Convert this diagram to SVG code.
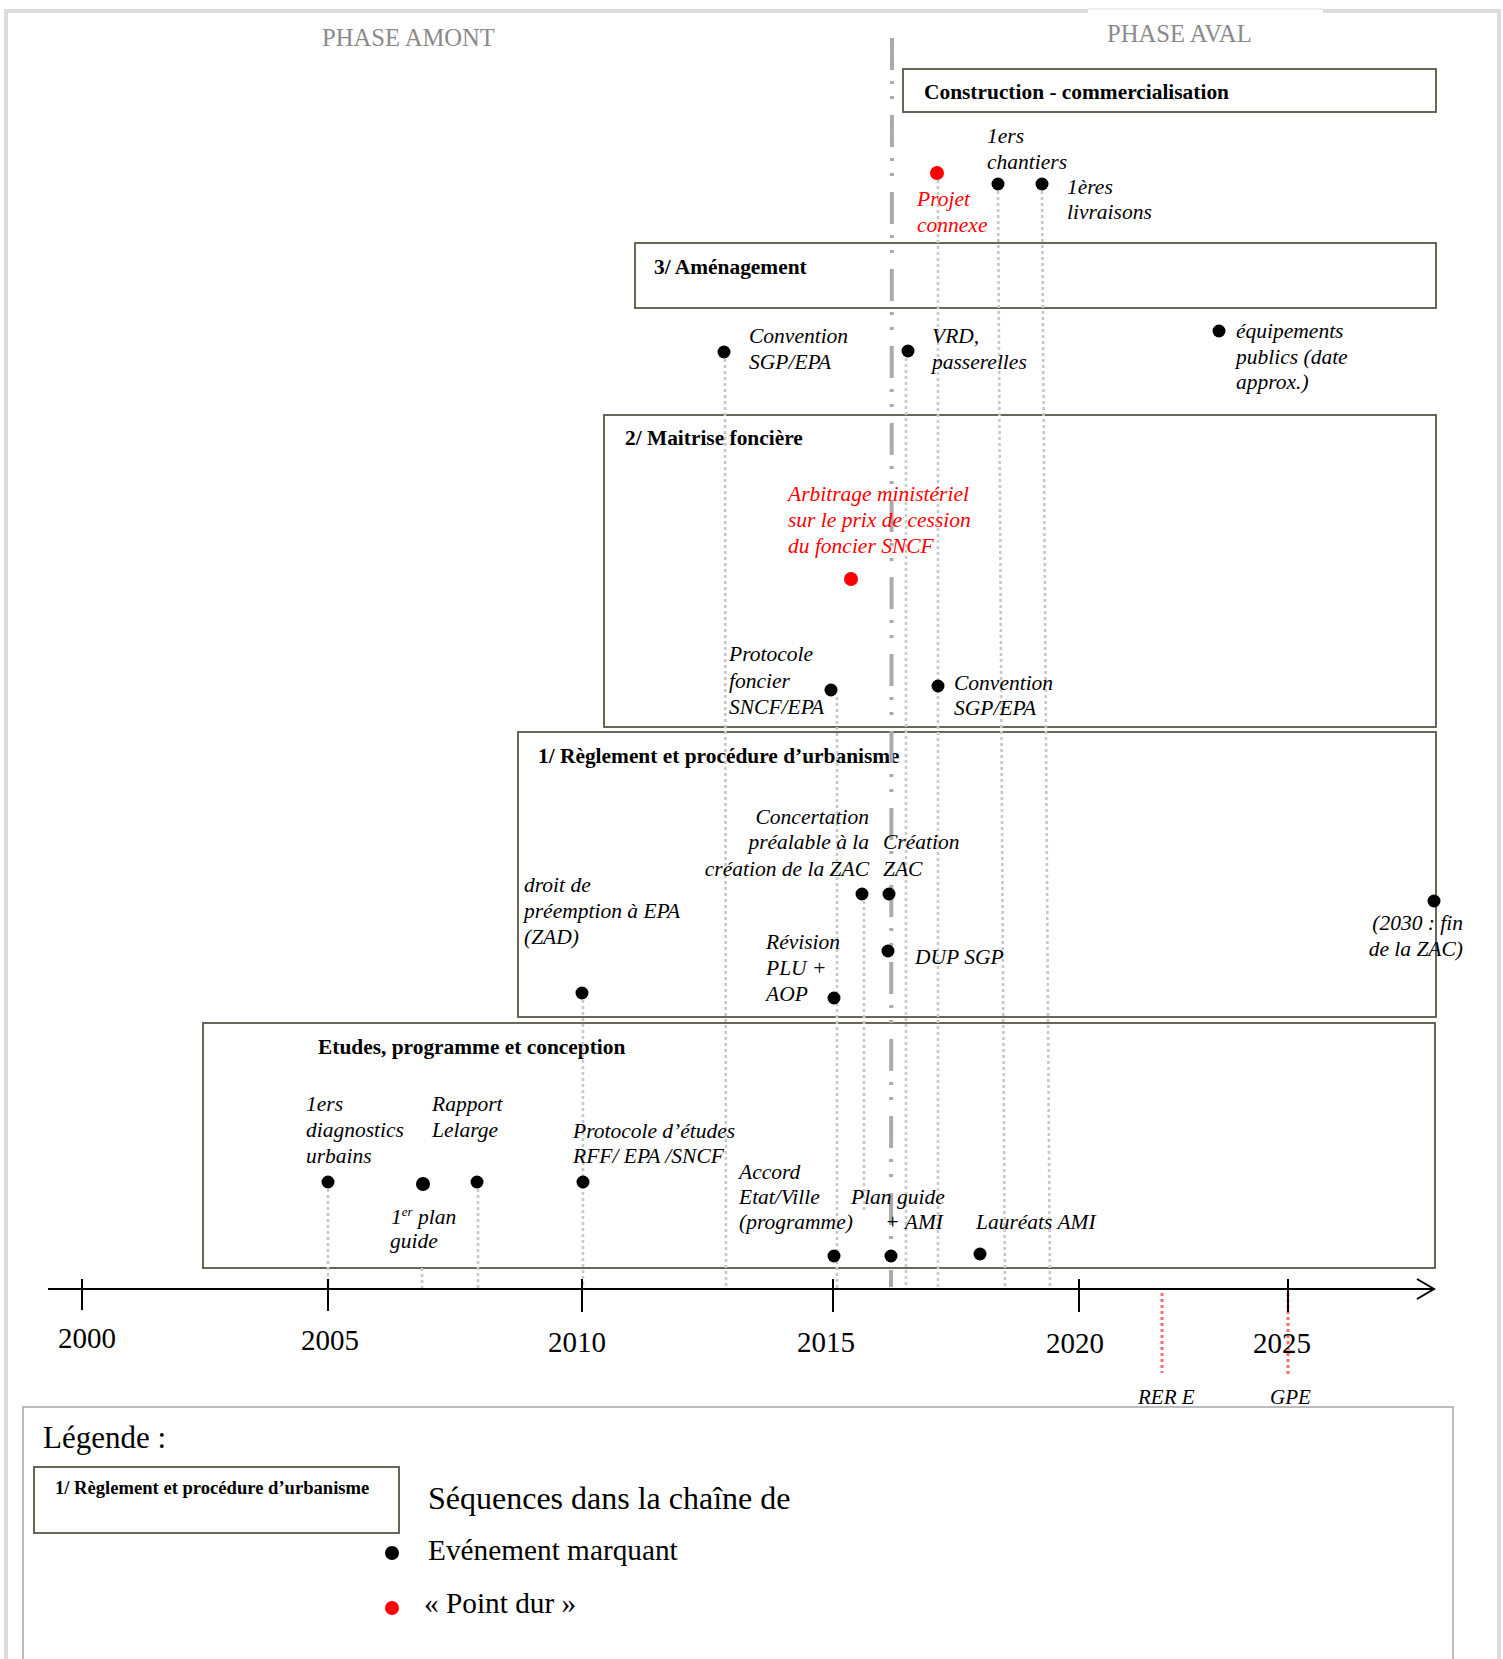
<svg xmlns="http://www.w3.org/2000/svg" width="1503" height="1659" viewBox="0 0 1503 1659">
<defs>
<style>
text{font-family:"Liberation Serif","Times New Roman",serif;}
.phase{font-size:24.6px;fill:#8a8a8a;}
.title{font-size:21.4px;font-weight:bold;fill:#000;}
.lbl{font-size:21.5px;font-style:italic;fill:#000;}
.red{fill:#ff0000;}
.year{font-size:29px;fill:#000;text-anchor:middle;}
.box{fill:none;stroke:#5a5745;stroke-width:1.8;}
.dot{fill:#000;}
.rdot{fill:#ff0000;}
.guide{stroke:#c8c8c8;stroke-width:2.6;stroke-dasharray:3 3;fill:none;}
.rguide{stroke:#f47070;stroke-width:3;stroke-dasharray:3 3;fill:none;}
.phaseline{stroke:#ababab;stroke-width:4;stroke-dasharray:32 11 3 12 3 16;fill:none;}
.tick{stroke:#000;stroke-width:2;}
.leg{font-size:29.3px;fill:#000;}
</style>
<marker id="arrow" viewBox="0 0 20 22" refX="18" refY="11" markerWidth="20" markerHeight="22" markerUnits="userSpaceOnUse" orient="auto">
<polyline points="1,1 18,11 1,21" fill="none" stroke="#000" stroke-width="2"/>
</marker>
</defs>
<rect width="1503" height="1659" fill="#fff"/>
<!-- outer frame -->
<g id="frame" fill="none">
<path d="M6,1659 V11 H1088" stroke="#dcdcdc" stroke-width="4"/>
<path d="M1088,9 H1323" stroke="#f0f0f0" stroke-width="2"/>
<path d="M1323,11 H1499 V1659" stroke="#dcdcdc" stroke-width="4"/>
</g>
<text class="phase" x="322" y="46">PHASE AMONT</text>
<text class="phase" x="1107" y="42">PHASE AVAL</text>

<!-- boxes -->
<g id="box-construction"><rect class="box" x="903" y="69" width="533" height="43"/><text class="title" x="924" y="99">Construction - commercialisation</text></g>
<g id="box-amenagement"><rect class="box" x="635" y="243" width="801" height="65"/><text class="title" x="654" y="274">3/ Aménagement</text></g>
<g id="box-fonciere"><rect class="box" x="604" y="415" width="832" height="312"/><text class="title" x="625" y="445">2/ Maitrise foncière</text></g>
<g id="box-urbanisme"><rect class="box" x="518" y="732" width="918" height="285"/><text class="title" x="538" y="763">1/ Règlement et procédure d’urbanisme</text></g>
<g id="box-etudes"><rect class="box" x="203" y="1023" width="1232" height="245"/><text class="title" x="318" y="1054">Etudes, programme et conception</text></g>

<!-- connectors -->
<g id="connectors">
<line class="phaseline" x1="892" y1="38" x2="891" y2="1287"/>
<line class="guide" x1="328" y1="1189" x2="328" y2="1289"/>
<line class="guide" x1="422" y1="1268" x2="422" y2="1289"/>
<line class="guide" x1="478" y1="1189" x2="478" y2="1289"/>
<line class="guide" x1="583" y1="1000" x2="583" y2="1289"/>
<line class="guide" x1="725" y1="359" x2="726" y2="1289"/>
<line class="guide" x1="837" y1="697" x2="837" y2="1289"/>
<line class="guide" x1="864" y1="901" x2="864" y2="1213"/>
<line class="guide" x1="906" y1="358" x2="906" y2="1289"/>
<line class="guide" x1="938" y1="180" x2="938" y2="1289"/>
<line class="guide" x1="998" y1="191" x2="1005" y2="1289"/>
<line class="guide" x1="1042" y1="191" x2="1050" y2="1289"/>
<line class="rguide" x1="1162" y1="1293" x2="1162" y2="1373"/>
<line class="rguide" x1="1288" y1="1293" x2="1288" y2="1375"/>
</g>

<!-- axis -->
<g id="axis">
<line x1="48" y1="1289" x2="1434" y2="1289" stroke="#000" stroke-width="2.2" marker-end="url(#arrow)"/>
<line class="tick" x1="82" y1="1279" x2="82" y2="1310"/>
<line class="tick" x1="328" y1="1279" x2="328" y2="1311"/>
<line class="tick" x1="582" y1="1279" x2="582" y2="1312"/>
<line class="tick" x1="833" y1="1279" x2="833" y2="1312"/>
<line class="tick" x1="1079" y1="1279" x2="1079" y2="1312"/>
<line class="tick" x1="1288" y1="1279" x2="1288" y2="1312"/>
<text class="year" x="87" y="1348">2000</text>
<text class="year" x="330" y="1350">2005</text>
<text class="year" x="577" y="1352">2010</text>
<text class="year" x="826" y="1352">2015</text>
<text class="year" x="1075" y="1353">2020</text>
<text class="year" x="1282" y="1353">2025</text>
<text class="lbl" x="1138" y="1404" style="font-size:21px">RER E</text>
<text class="lbl" x="1270" y="1404" style="font-size:21px">GPE</text>
</g>

<!-- events -->
<g id="ev-projet-connexe"><circle class="rdot" cx="937" cy="173" r="7"/><text class="lbl red" x="917" y="206">Projet</text><text class="lbl red" x="917" y="232">connexe</text></g>
<g id="ev-chantiers"><circle class="dot" cx="998" cy="184" r="6.5"/><text class="lbl" x="987" y="143">1ers</text><text class="lbl" x="987" y="169">chantiers</text></g>
<g id="ev-livraisons"><circle class="dot" cx="1042" cy="184" r="6.5"/><text class="lbl" x="1067" y="194">1ères</text><text class="lbl" x="1067" y="219">livraisons</text></g>
<g id="ev-convention-amenagement"><circle class="dot" cx="724" cy="352" r="6.5"/><text class="lbl" x="749" y="343">Convention</text><text class="lbl" x="749" y="369">SGP/EPA</text></g>
<g id="ev-vrd"><circle class="dot" cx="908" cy="351" r="6.5"/><text class="lbl" x="932" y="343">VRD,</text><text class="lbl" x="932" y="369">passerelles</text></g>
<g id="ev-equipements"><circle class="dot" cx="1219" cy="331" r="6.5"/><text class="lbl" x="1236" y="338">équipements</text><text class="lbl" x="1236" y="364">publics (date</text><text class="lbl" x="1236" y="389">approx.)</text></g>
<g id="ev-arbitrage"><circle class="rdot" cx="851" cy="579" r="7"/><text class="lbl red" x="788" y="501">Arbitrage ministériel</text><text class="lbl red" x="788" y="527">sur le prix de cession</text><text class="lbl red" x="788" y="553">du foncier SNCF</text></g>
<g id="ev-protocole-foncier"><circle class="dot" cx="831" cy="690" r="6.5"/><text class="lbl" x="729" y="661">Protocole</text><text class="lbl" x="729" y="688">foncier</text><text class="lbl" x="729" y="714">SNCF/EPA</text></g>
<g id="ev-convention-fonciere"><circle class="dot" cx="938" cy="686" r="6.5"/><text class="lbl" x="954" y="690">Convention</text><text class="lbl" x="954" y="715">SGP/EPA</text></g>
<g id="ev-concertation"><circle class="dot" cx="862" cy="894" r="6.5"/><text class="lbl" x="869" y="824" text-anchor="end">Concertation</text><text class="lbl" x="869" y="849" text-anchor="end">préalable à la</text><text class="lbl" x="869" y="876" text-anchor="end">création de la ZAC</text></g>
<g id="ev-creation-zac"><circle class="dot" cx="889" cy="894" r="6.5"/><text class="lbl" x="883" y="849">Création</text><text class="lbl" x="883" y="876">ZAC</text></g>
<g id="ev-zad"><circle class="dot" cx="582" cy="993" r="6.5"/><text class="lbl" x="524" y="892">droit de</text><text class="lbl" x="524" y="918">préemption à EPA</text><text class="lbl" x="524" y="944">(ZAD)</text></g>
<g id="ev-plu"><circle class="dot" cx="834" cy="998" r="6.5"/><text class="lbl" x="766" y="949">Révision</text><text class="lbl" x="766" y="975">PLU +</text><text class="lbl" x="766" y="1001">AOP</text></g>
<g id="ev-dup"><circle class="dot" cx="888" cy="951" r="6.5"/><text class="lbl" x="915" y="964">DUP SGP</text></g>
<g id="ev-fin-zac"><circle class="dot" cx="1434" cy="901" r="6.5"/><text class="lbl" x="1463" y="930" text-anchor="end">(2030 : fin</text><text class="lbl" x="1463" y="956" text-anchor="end">de la ZAC)</text></g>
<g id="ev-diagnostics"><circle class="dot" cx="328" cy="1182" r="6.5"/><text class="lbl" x="306" y="1111">1ers</text><text class="lbl" x="306" y="1137">diagnostics</text><text class="lbl" x="306" y="1163">urbains</text></g>
<g id="ev-plan-guide-1"><circle class="dot" cx="423" cy="1184" r="7"/><text class="lbl" x="391" y="1224">1<tspan font-size="13" dy="-8">er</tspan><tspan dy="8"> plan</tspan></text><text class="lbl" x="390" y="1248">guide</text></g>
<g id="ev-lelarge"><circle class="dot" cx="477" cy="1182" r="6.5"/><text class="lbl" x="432" y="1111">Rapport</text><text class="lbl" x="432" y="1137">Lelarge</text></g>
<g id="ev-protocole-etudes"><circle class="dot" cx="583" cy="1182" r="6.5"/><text class="lbl" x="573" y="1138">Protocole d’études</text><text class="lbl" x="573" y="1163">RFF/ EPA /SNCF</text></g>
<g id="ev-accord"><circle class="dot" cx="834" cy="1256" r="6.5"/><text class="lbl" x="739" y="1179">Accord</text><text class="lbl" x="739" y="1204">Etat/Ville</text><text class="lbl" x="739" y="1229">(programme)</text></g>
<g id="ev-plan-guide-ami"><circle class="dot" cx="891" cy="1256" r="6.5"/><text class="lbl" x="851" y="1204">Plan guide</text><text class="lbl" x="943" y="1229" text-anchor="end">+ AMI</text></g>
<g id="ev-laureats"><circle class="dot" cx="980" cy="1254" r="6.5"/><text class="lbl" x="976" y="1229">Lauréats AMI</text></g>

<!-- legend -->
<g id="legend">
<rect x="23" y="1407" width="1430" height="262" fill="none" stroke="#bcbcbc" stroke-width="2"/>
<text x="43" y="1448" style="font-size:31px">Légende :</text>
<rect class="box" x="34" y="1467" width="365" height="66"/>
<text x="55" y="1494" style="font-size:18.6px;font-weight:bold">1/ Règlement et procédure d’urbanisme</text>
<text x="428" y="1509" style="font-size:32px">Séquences dans la chaîne de</text>
<circle class="dot" cx="392" cy="1553" r="7"/>
<text class="leg" x="428" y="1560">Evénement marquant</text>
<circle class="rdot" cx="392" cy="1608" r="7"/>
<text class="leg" x="424" y="1613">« Point dur »</text>
</g>
</svg>
